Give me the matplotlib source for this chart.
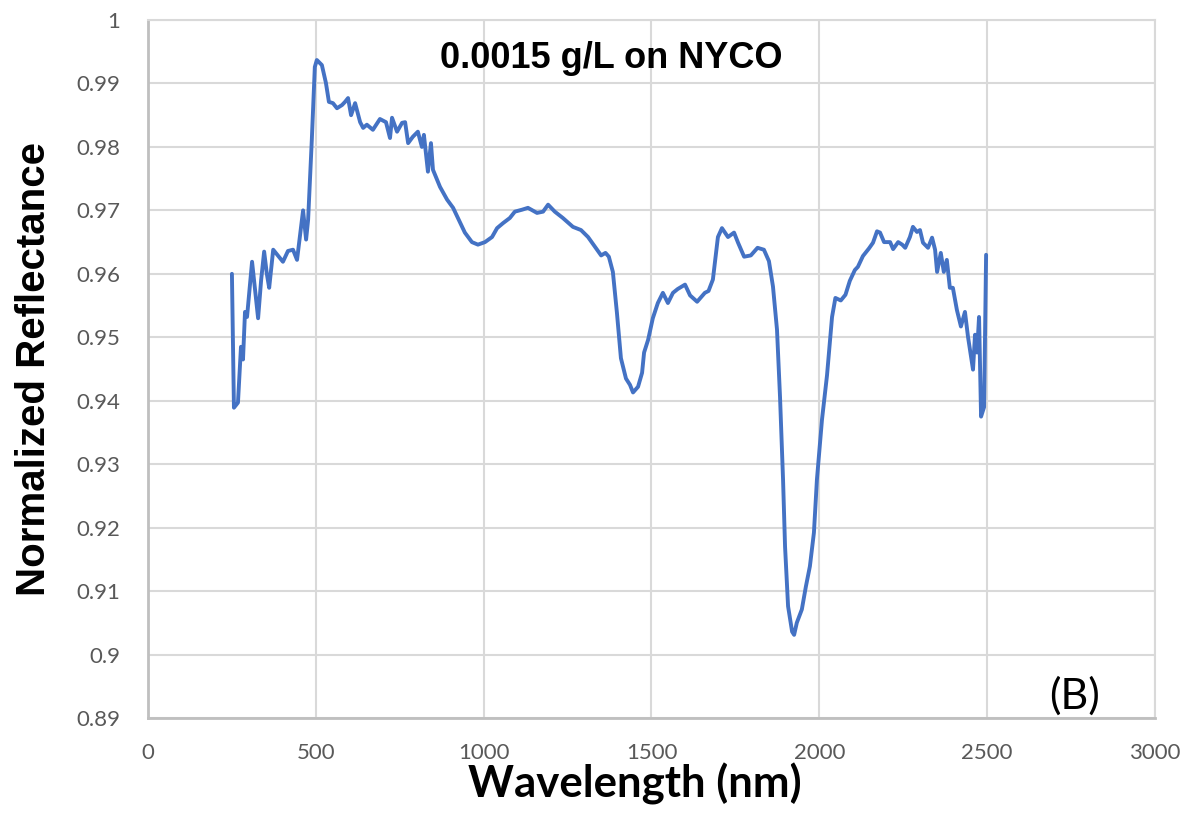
import matplotlib
matplotlib.use("Agg")
import matplotlib.pyplot as plt
from matplotlib.ticker import FixedLocator

# Spectrum: wavelength (nm) and normalized reflectance
wavelength = [
    250, 256, 268, 277, 283, 289, 295, 310, 328, 337, 346, 354, 361, 373, 393,
    402, 417, 432, 444, 462, 471, 477, 488, 497, 503, 518, 530, 539, 551, 563,
    578, 587, 596, 605, 617, 632, 641, 652, 670, 691, 709, 721, 727, 742, 757,
    766, 775, 789, 804, 816, 822, 831, 834, 843, 849, 870, 891, 909, 926, 944,
    965, 983, 1004, 1025, 1040, 1058, 1078, 1093, 1114, 1132, 1159, 1177, 1192,
    1212, 1236, 1266, 1290, 1311, 1330, 1350, 1363, 1373, 1385, 1397, 1409,
    1424, 1436, 1445, 1460, 1472, 1478, 1490, 1504, 1519, 1534, 1549, 1564,
    1578, 1600, 1615, 1636, 1659, 1670, 1683, 1698, 1710, 1728, 1746, 1758,
    1776, 1796, 1816, 1835, 1850, 1862, 1874, 1883, 1892, 1898, 1907, 1919,
    1925, 1933, 1948, 1960, 1972, 1984, 1993, 2008, 2023, 2038, 2048, 2064,
    2078, 2091, 2106, 2115, 2130, 2148, 2160, 2172, 2181, 2193, 2211, 2220,
    2235, 2247, 2256, 2270, 2279, 2291, 2300, 2309, 2324, 2336, 2345, 2351,
    2362, 2371, 2380, 2389, 2398, 2410, 2422, 2434, 2443, 2458, 2464, 2470,
    2476, 2482, 2491, 2497,
]
reflectance = [
    0.9600, 0.9389, 0.9397, 0.9485, 0.9465, 0.9540, 0.9532, 0.9619, 0.9530,
    0.9590, 0.9635, 0.9600, 0.9578, 0.9638, 0.9625, 0.9619, 0.9636, 0.9638,
    0.9622, 0.9700, 0.9654, 0.9685, 0.9811, 0.9926, 0.9937, 0.9929, 0.9901,
    0.9871, 0.9869, 0.9861, 0.9866, 0.9871, 0.9877, 0.9850, 0.9869, 0.9839,
    0.9830, 0.9835, 0.9827, 0.9844, 0.9839, 0.9814, 0.9846, 0.9824, 0.9838,
    0.9839, 0.9806, 0.9816, 0.9824, 0.9800, 0.9819, 0.9775, 0.9761, 0.9806,
    0.9764, 0.9737, 0.9717, 0.9704, 0.9685, 0.9665, 0.9650, 0.9646, 0.9650,
    0.9658, 0.9672, 0.9680, 0.9688, 0.9698, 0.9701, 0.9704, 0.9696, 0.9698,
    0.9709, 0.9698, 0.9688, 0.9674, 0.9669, 0.9658, 0.9644, 0.9629, 0.9633,
    0.9627, 0.9603, 0.9539, 0.9467, 0.9435, 0.9425, 0.9413, 0.9422, 0.9444,
    0.9476, 0.9496, 0.9530, 0.9554, 0.9570, 0.9554, 0.9570, 0.9576, 0.9583,
    0.9566, 0.9556, 0.9570, 0.9573, 0.9591, 0.9658, 0.9672, 0.9658, 0.9665,
    0.9649, 0.9627, 0.9629, 0.9641, 0.9638, 0.9620, 0.9580, 0.9512, 0.9406,
    0.9276, 0.9170, 0.9076, 0.9036, 0.9031, 0.9050, 0.9071, 0.9107, 0.9139,
    0.9192, 0.9276, 0.9370, 0.9440, 0.9532, 0.9562, 0.9558, 0.9567, 0.9589,
    0.9606, 0.9611, 0.9628, 0.9640, 0.9649, 0.9667, 0.9665, 0.9650, 0.9650,
    0.9639, 0.9650, 0.9646, 0.9641, 0.9658, 0.9674, 0.9666, 0.9669, 0.9649,
    0.9641, 0.9657, 0.9638, 0.9603, 0.9633, 0.9603, 0.9622, 0.9578, 0.9578,
    0.9543, 0.9517, 0.9540, 0.9501, 0.9449, 0.9504, 0.9476, 0.9532, 0.9375,
    0.9390, 0.9630,
]

x_ticks = [0, 500, 1000, 1500, 2000, 2500, 3000]
y_ticks = [0.89, 0.90, 0.91, 0.92, 0.93, 0.94, 0.95, 0.96, 0.97, 0.98, 0.99, 1.00]
y_tick_labels = ["0.89", "0.9", "0.91", "0.92", "0.93", "0.94", "0.95",
                 "0.96", "0.97", "0.98", "0.99", "1"]

title_text = "0.0015 g/L on NYCO"
panel_text = "(B)"

fig = plt.figure(figsize=(11.86, 8.21), dpi=100)
ax = fig.add_axes([0.1248, 0.1255, 0.8490, 0.8501])

ax.plot(wavelength, reflectance, color="#4472C4", linewidth=2.8,
        solid_joinstyle="round", solid_capstyle="round", zorder=3)

ax.set_xlim(0, 3000)
ax.set_ylim(0.89, 1.0)
ax.xaxis.set_major_locator(FixedLocator(x_ticks))
ax.yaxis.set_major_locator(FixedLocator(y_ticks))
ax.set_yticklabels(y_tick_labels)
ax.set_xticklabels([str(t) for t in x_ticks])

ax.grid(True, color="#D9D9D9", linewidth=1.5, zorder=0)
ax.set_axisbelow(True)
for side in ("top", "right"):
    ax.spines[side].set_color("#D9D9D9")
    ax.spines[side].set_linewidth(1.5)
for side in ("left", "bottom"):
    ax.spines[side].set_color("#BFBFBF")
    ax.spines[side].set_linewidth(2.0)

ax.tick_params(axis="both", length=0, labelsize=16, labelcolor="#595959")
ax.tick_params(axis="y", pad=20)
ax.tick_params(axis="x", pad=18)
for lab in ax.get_xticklabels() + ax.get_yticklabels():
    lab.set_family("Lato")

xl = ax.set_xlabel("Wavelength (nm)", fontsize=31.5, fontweight="bold",
                   family="Lato")
xl.set_va("baseline")
ax.xaxis.set_label_coords(0.4836, -0.1146, transform=ax.transAxes)
ax.set_ylabel("Normalized Reflectance", fontsize=29, fontweight="bold",
              family="Liberation Sans", labelpad=17)

ax.text(1380, 0.9939, title_text, fontsize=26, fontweight="bold",
        family="Liberation Sans", ha="center", va="center", color="black")
ax.text(2760, 0.8903, panel_text, fontsize=31, family="Lato",
        ha="center", va="bottom", color="black")

fig.savefig("out.png", dpi=100)
